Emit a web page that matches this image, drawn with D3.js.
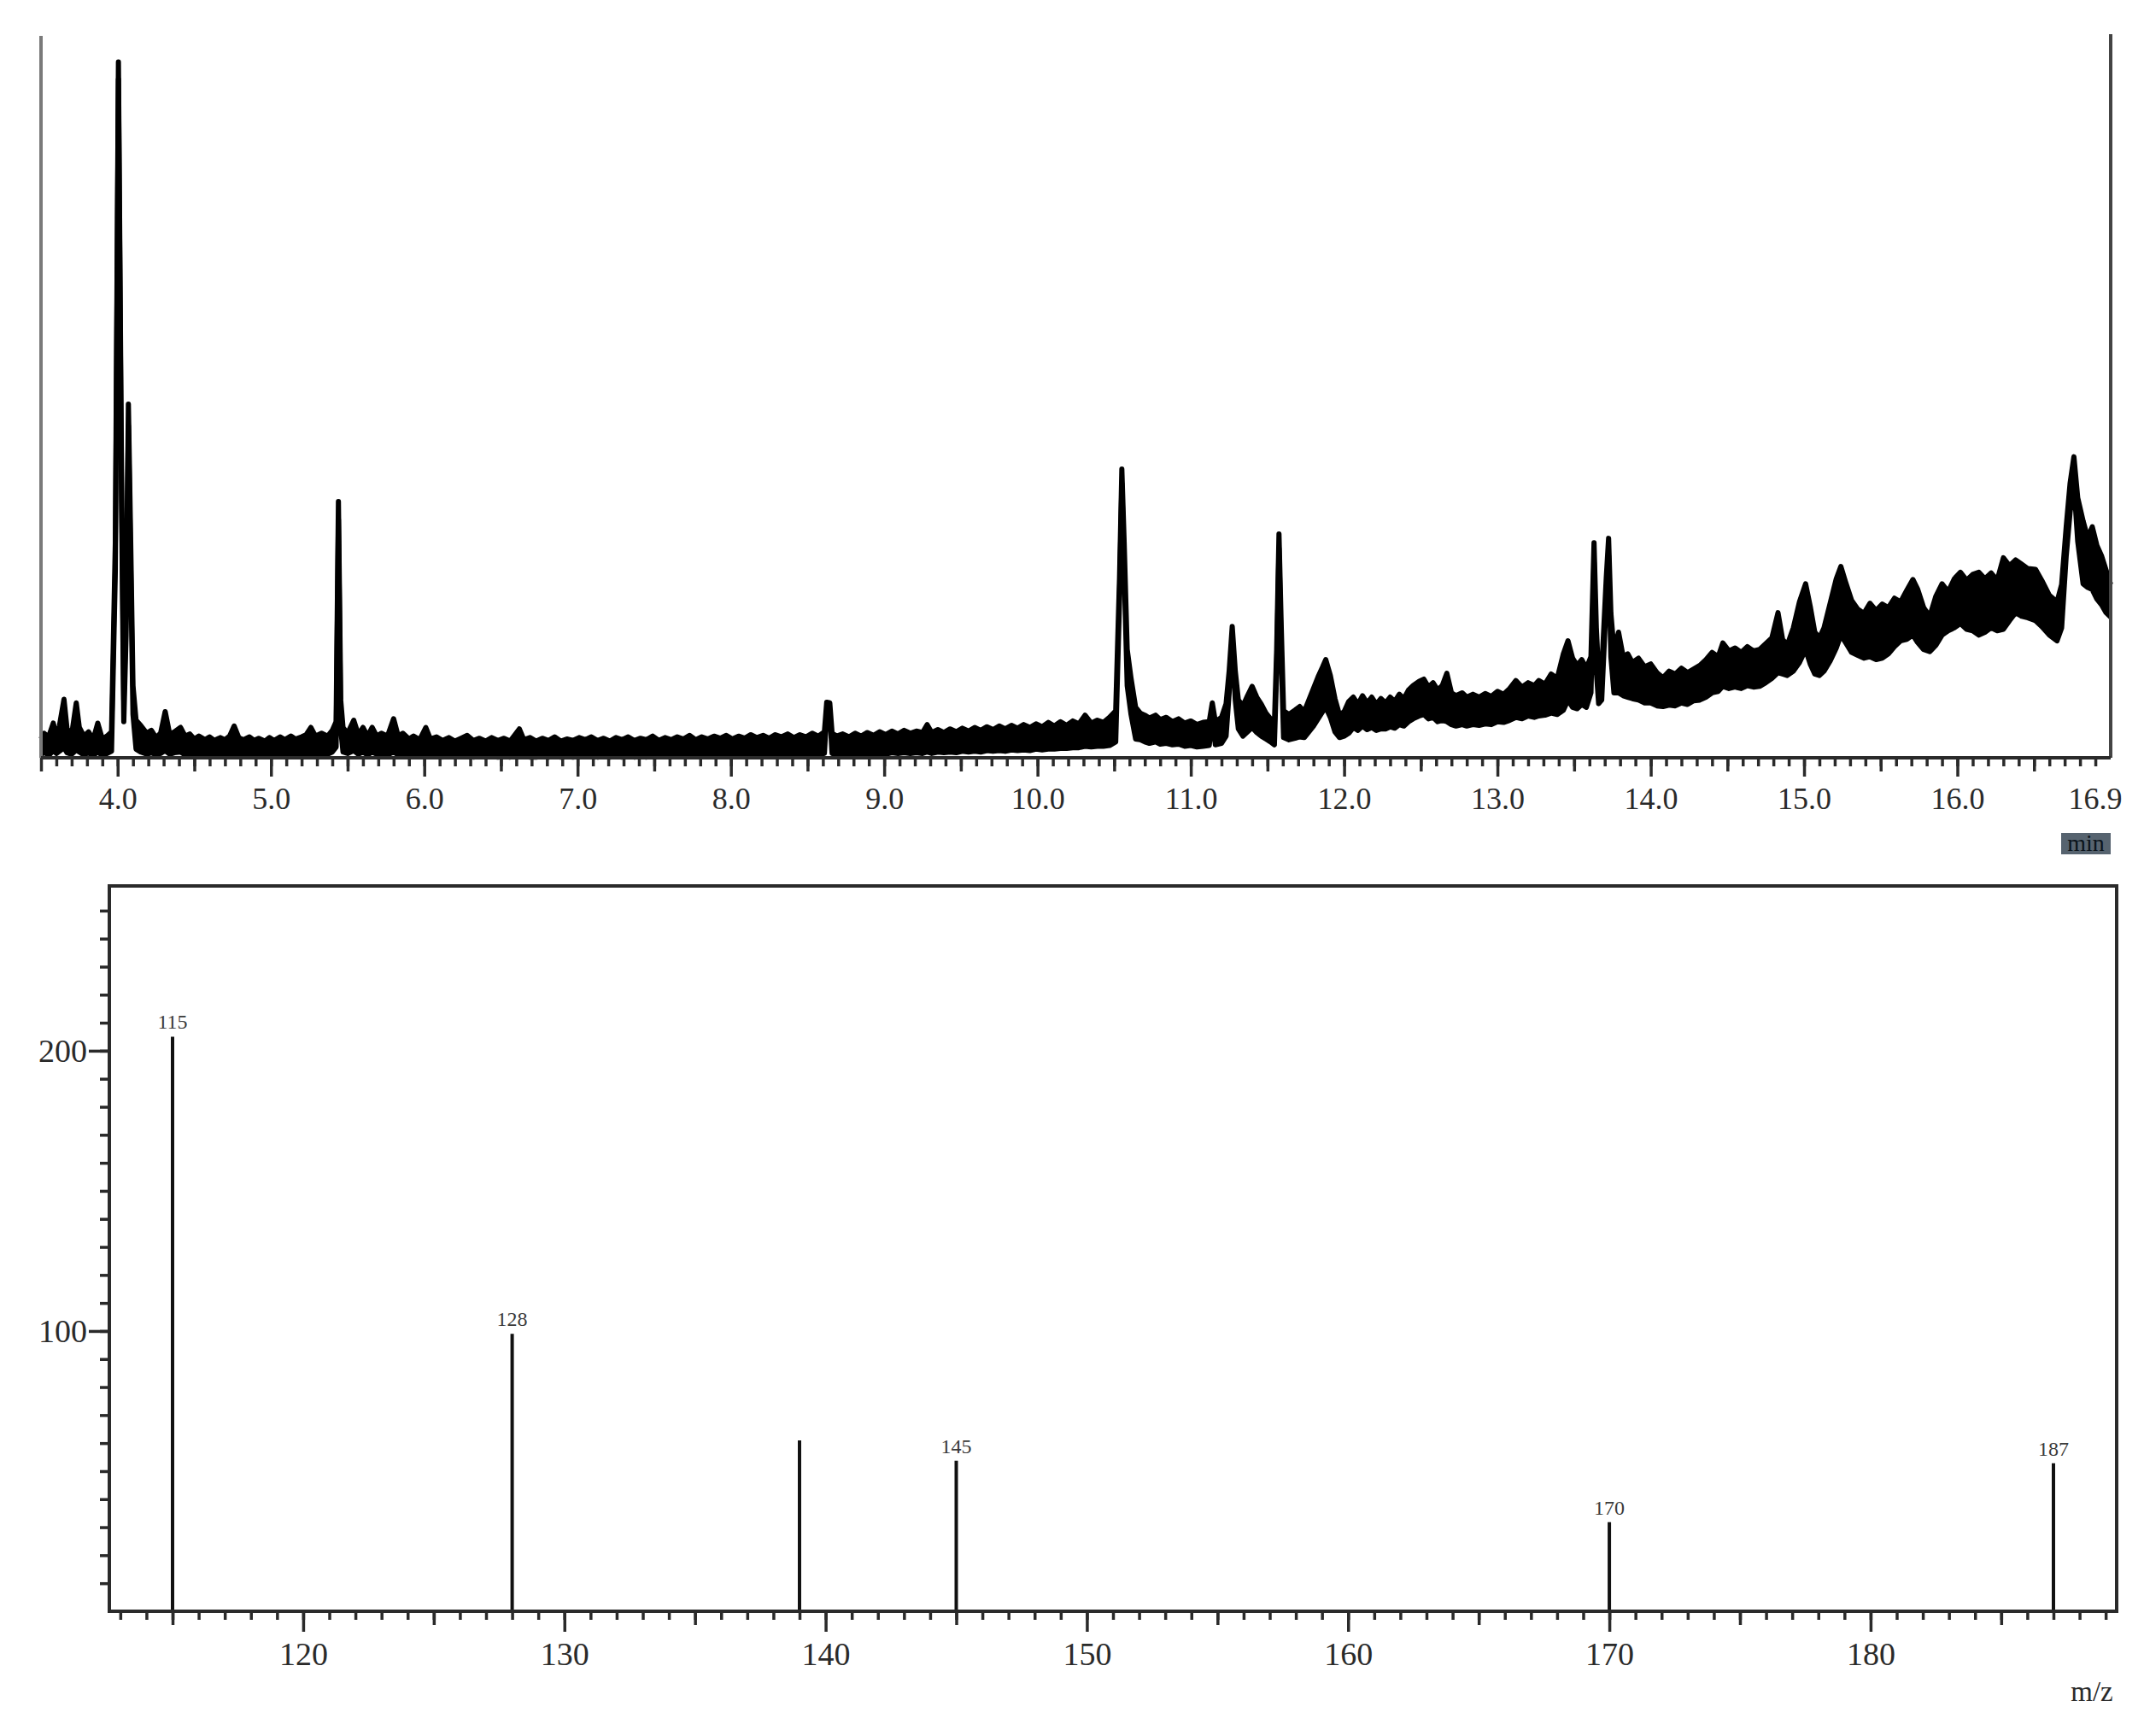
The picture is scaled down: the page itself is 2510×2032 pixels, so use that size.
<!DOCTYPE html>
<html>
<head>
<meta charset="utf-8">
<script src="https://cdn.jsdelivr.net/npm/d3@7"></script>
<style>
  body { margin: 0; background: #fff; }
  svg { display: block; font-family: "Liberation Serif", "Times New Roman", serif; }
</style>
</head>
<body>
<div id="chart"></div>
<script>
// total ion chromatogram:
// [retention time (min), upper edge of trace, lower edge of trace], in % of panel height
var ticTrace = [
  [3.50,2.6,0.4],[3.52,3.4,0.8],[3.55,2.9,0.3],[3.58,4.8,1.0],[3.60,3.1,0.6],[3.62,4.4,0.9],[3.65,8.1,1.4],
  [3.67,4.0,0.7],[3.70,3.2,0.5],[3.73,7.6,1.1],[3.75,4.2,0.8],[3.78,3.0,0.4],[3.81,3.6,0.7],[3.84,2.5,0.3],
  [3.87,4.8,0.8],[3.90,2.6,0.3],[3.93,3.0,0.6],[3.96,3.6,0.9],[3.985,30,26],[4.005,96.4,94],[4.025,40,36],
  [4.04,8,5],[4.055,20,17],[4.07,49,46],[4.085,30,26],[4.10,10,6],[4.12,5.2,1.2],[4.15,4.5,0.8],
  [4.19,3.4,0.5],[4.22,3.8,0.7],[4.25,2.8,0.4],[4.28,3.4,0.6],[4.31,6.4,1.0],[4.34,3.2,0.5],[4.37,3.6,0.7],
  [4.41,4.2,0.8],[4.44,3.0,0.4],[4.47,3.3,0.6],[4.50,2.6,0.3],[4.53,3.0,0.5],[4.57,2.5,0.2],[4.60,2.9,0.4],
  [4.63,2.4,0.3],[4.67,2.8,0.4],[4.70,2.5,0.2],[4.73,3.0,0.4],[4.76,4.4,0.6],[4.79,2.8,0.3],[4.82,2.5,0.2],
  [4.86,2.9,0.4],[4.89,2.4,0.2],[4.92,2.7,0.3],[4.96,2.3,0.2],[4.99,2.8,0.4],[5.02,2.4,0.2],[5.06,2.9,0.3],
  [5.09,2.5,0.2],[5.13,3.0,0.4],[5.16,2.6,0.3],[5.20,2.9,0.3],[5.23,3.2,0.5],[5.26,4.2,0.6],[5.29,3.0,0.4],
  [5.33,3.4,0.6],[5.37,3.0,0.5],[5.40,3.8,0.8],[5.425,5,1.5],[5.44,35.5,33],[5.455,8,4],[5.47,4.2,0.8],
  [5.50,3.4,0.6],[5.54,5.2,1.0],[5.57,3.2,0.5],[5.60,4.2,0.8],[5.63,3.0,0.4],[5.66,4.2,0.8],[5.69,3.0,0.5],
  [5.72,3.4,0.5],[5.76,3.0,0.4],[5.80,5.4,0.8],[5.83,3.0,0.4],[5.86,3.4,0.5],[5.90,2.6,0.3],[5.93,3.0,0.4],
  [5.97,2.5,0.2],[6.01,4.2,0.5],[6.04,2.6,0.2],[6.08,2.9,0.3],[6.12,2.4,0.1],[6.16,2.8,0.3],[6.20,2.3,0.2],
  [6.24,2.7,0.2],[6.28,3.1,0.3],[6.32,2.4,0.1],[6.36,2.7,0.2],[6.40,2.3,0.1],[6.44,2.8,0.2],[6.48,2.4,0.1],
  [6.52,2.7,0.2],[6.56,2.3,0.1],[6.62,4.0,0.4],[6.65,2.5,0.2],[6.69,2.8,0.1],[6.73,2.3,0.1],[6.77,2.7,0.2],
  [6.81,2.4,0.1],[6.85,2.9,0.2],[6.89,2.3,0.1],[6.93,2.6,0.2],[6.97,2.4,0.1],[7.01,2.8,0.2],[7.05,2.5,0.2],
  [7.09,2.9,0.3],[7.13,2.4,0.1],[7.17,2.7,0.2],[7.21,2.3,0.1],[7.25,2.8,0.2],[7.29,2.5,0.1],[7.33,2.9,0.3],
  [7.37,2.4,0.1],[7.41,2.7,0.2],[7.45,2.5,0.1],[7.49,3.0,0.3],[7.53,2.4,0.2],[7.57,2.8,0.2],[7.61,2.5,0.1],
  [7.65,2.9,0.3],[7.69,2.6,0.2],[7.73,3.1,0.3],[7.77,2.5,0.2],[7.81,2.9,0.3],[7.85,2.6,0.2],[7.89,3.0,0.3],
  [7.93,2.7,0.2],[7.97,3.1,0.4],[8.01,2.6,0.2],[8.05,3.0,0.3],[8.09,2.7,0.2],[8.13,3.2,0.4],[8.17,2.8,0.3],
  [8.21,3.1,0.3],[8.25,2.7,0.2],[8.29,3.2,0.4],[8.33,2.9,0.3],[8.37,3.3,0.4],[8.41,2.8,0.3],[8.45,3.2,0.4],
  [8.49,2.9,0.3],[8.53,3.4,0.5],[8.57,3.0,0.4],[8.61,3.6,0.6],[8.625,7.7,6.5],[8.645,7.6,6],[8.66,3.4,0.6],
  [8.69,3.0,0.4],[8.73,3.3,0.5],[8.77,2.9,0.4],[8.81,3.4,0.5],[8.85,3.0,0.4],[8.89,3.5,0.6],[8.93,3.1,0.5],
  [8.97,3.6,0.6],[9.01,3.2,0.5],[9.05,3.7,0.7],[9.09,3.3,0.6],[9.13,3.8,0.7],[9.17,3.4,0.6],[9.21,3.7,0.7],
  [9.25,3.5,0.6],[9.28,4.6,0.8],[9.31,3.5,0.6],[9.35,3.9,0.8],[9.39,3.5,0.7],[9.43,4.0,0.8],[9.47,3.6,0.7],
  [9.51,4.1,0.9],[9.55,3.7,0.8],[9.59,4.2,0.9],[9.63,3.8,0.8],[9.67,4.3,1.0],[9.71,3.9,0.9],[9.75,4.4,1.0],
  [9.79,4.0,0.9],[9.83,4.5,1.1],[9.87,4.1,1.0],[9.91,4.6,1.1],[9.95,4.2,1.0],[9.99,4.7,1.2],[10.03,4.3,1.1],
  [10.07,4.9,1.2],[10.11,4.4,1.2],[10.15,5.0,1.3],[10.19,4.5,1.3],[10.23,5.1,1.4],[10.27,4.7,1.4],[10.31,5.9,1.6],
  [10.35,4.8,1.5],[10.39,5.2,1.6],[10.43,4.9,1.6],[10.47,5.6,1.7],[10.51,6.5,2.2],[10.535,25,22],[10.55,40,38],
  [10.565,30,26],[10.585,15,10],[10.61,11,6],[10.64,7.0,2.6],[10.67,6.2,2.5],[10.70,5.9,2.2],[10.73,5.5,2.0],
  [10.77,5.9,2.2],[10.80,5.3,1.9],[10.84,5.6,2.0],[10.88,5.0,1.8],[10.92,5.4,1.9],[10.96,4.8,1.6],[11.00,5.1,1.7],
  [11.04,4.6,1.5],[11.08,4.9,1.6],[11.12,5.0,1.7],[11.14,7.6,5.5],[11.16,5.0,1.8],[11.20,5.6,2.0],[11.23,7.5,3.0],
  [11.25,12,9],[11.27,18.2,16],[11.29,12,8],[11.31,8,4],[11.34,7.2,3.0],[11.37,8.6,3.6],[11.40,9.9,4.2],
  [11.43,8.4,3.5],[11.46,7.4,3.0],[11.49,6.2,2.6],[11.52,5.4,2.2],[11.545,4.6,1.8],[11.56,15,12],[11.575,31,29],
  [11.59,18,14],[11.605,6.5,2.8],[11.64,6.0,2.5],[11.68,6.6,2.7],[11.71,7.1,2.9],[11.74,6.4,2.8],[11.77,8.0,3.6],
  [11.80,9.6,4.4],[11.83,11.2,5.4],[11.86,12.6,6.4],[11.88,13.6,7.0],[11.91,11.4,5.6],[11.94,8.2,3.6],[11.97,5.9,2.8],
  [12.00,6.4,3.0],[12.03,7.8,3.4],[12.06,8.4,4.2],[12.09,7.4,3.8],[12.12,8.6,4.4],[12.15,7.6,3.9],[12.18,8.4,4.2],
  [12.21,7.4,3.8],[12.24,8.2,4.0],[12.27,7.6,4.0],[12.30,8.4,4.3],[12.33,7.8,4.1],[12.36,8.8,4.6],[12.39,8.2,4.4],
  [12.42,9.4,5.0],[12.45,10.0,5.4],[12.49,10.6,5.8],[12.52,10.9,6.0],[12.55,9.8,5.4],[12.58,10.4,5.6],[12.61,9.4,5.0],
  [12.64,10.0,5.2],[12.67,11.7,5.0],[12.70,9.0,4.6],[12.73,8.6,4.4],[12.77,9.0,4.6],[12.80,8.4,4.4],[12.84,8.8,4.6],
  [12.88,8.4,4.5],[12.92,8.9,4.7],[12.96,8.5,4.6],[13.00,9.2,5.0],[13.04,8.8,4.9],[13.08,9.6,5.2],[13.12,10.7,5.6],
  [13.16,9.8,5.4],[13.20,10.4,5.8],[13.24,10.0,5.6],[13.27,10.7,5.8],[13.31,10.2,5.9],[13.35,11.6,6.2],[13.39,11.0,6.0],
  [13.43,14.4,6.6],[13.46,16.2,8.0],[13.49,13.8,7.0],[13.52,12.8,6.8],[13.55,13.6,7.4],[13.58,12.4,7.0],[13.61,14,9],
  [13.63,29.8,27],[13.645,18,12],[13.66,11.5,7.5],[13.68,12,8],[13.71,25,22],[13.725,30.4,28],[13.74,20,14],
  [13.76,15,9],[13.79,17.4,9.0],[13.82,14.0,8.6],[13.85,14.4,8.4],[13.88,13.2,8.2],[13.92,13.8,8.0],[13.96,12.6,7.6],
  [14.00,13.0,7.6],[14.04,11.8,7.2],[14.08,11.1,7.1],[14.12,12.0,7.3],[14.16,11.6,7.2],[14.20,12.4,7.6],[14.24,11.8,7.4],
  [14.28,12.3,7.9],[14.32,12.8,8.0],[14.36,13.6,8.4],[14.40,14.6,9.0],[14.44,14.0,9.2],[14.47,15.9,9.9],[14.51,14.8,9.6],
  [14.55,15.2,9.8],[14.59,14.6,9.6],[14.63,15.4,10.0],[14.67,14.8,9.8],[14.71,15.0,9.9],[14.75,15.8,10.4],[14.79,16.6,11.0],
  [14.83,20.1,11.8],[14.86,16.4,11.6],[14.89,15.6,11.4],[14.93,18.0,12.0],[14.97,21.6,13.2],[15.01,24.1,15.0],[15.04,21.0,13.0],
  [15.07,17.4,11.6],[15.10,16.6,11.4],[15.13,18.0,12.0],[15.17,21.4,13.4],[15.21,24.8,15.2],[15.24,26.5,17.0],[15.27,24.4,16.0],
  [15.31,21.8,14.6],[15.35,20.6,14.2],[15.39,20.0,13.8],[15.43,21.4,14.0],[15.47,20.4,13.6],[15.51,21.3,13.8],[15.55,20.8,14.4],
  [15.59,22.1,15.4],[15.63,21.6,16.2],[15.67,23.2,16.4],[15.71,24.7,17.0],[15.74,23.4,16.0],[15.78,20.8,15.0],[15.82,19.6,14.7],
  [15.86,22.4,15.6],[15.90,24.1,17.0],[15.94,23.0,17.6],[15.98,24.8,18.0],[16.02,25.7,18.6],[16.06,24.6,17.8],[16.10,25.4,17.6],
  [16.14,25.7,17.0],[16.18,24.8,17.4],[16.22,25.6,18.0],[16.26,24.6,17.6],[16.30,27.7,17.8],[16.34,26.6,19.0],[16.38,27.4,20.1],
  [16.42,26.8,19.6],[16.46,26.2,19.4],[16.51,26.1,19.0],[16.55,24.6,18.2],[16.60,22.5,17.0],[16.65,21.6,16.2],[16.68,24,18],
  [16.71,32,28],[16.735,38,34],[16.76,41.7,38],[16.785,36,30],[16.82,32.8,24.1],[16.85,30.5,23.6],[16.88,32.0,23.3],
  [16.91,29.4,22.0],[16.94,28.0,21.2],[16.97,26.0,20.1],[17.00,24.0,19.5]
];

var rtLabels = [4, 5, 6, 7, 8, 9, 10, 11, 12, 13, 14, 15, 16];
var rtEndLabel = 16.9;

// mass spectrum
var msMz = [115, 128, 139, 145, 170, 187];
var msAbund = [205, 99, 61, 53.7, 31.8, 52.8];
var msLabelled = [115, 128, 145, 170, 187];
var msXLabels = [120, 130, 140, 150, 160, 170, 180];
var msYLabels = [100, 200];

var W = 2510, H = 2032;
var ink = "#2a2a2a";

var svg = d3.select("#chart").append("svg")
    .attr("width", W)
    .attr("height", H);

function cleanAxis(g, w) {
  g.select(".domain").remove();
  g.selectAll(".tick line").attr("stroke", ink).attr("stroke-width", w);
}

// ---------- chromatogram ----------
var tx = d3.scaleLinear().domain([3.5, 17.0]).range([48, 2471]);
var ty = d3.scaleLinear().domain([0, 100]).range([887, 42]);

var chrom = svg.append("g");

chrom.append("path")
    .datum(ticTrace)
    .attr("d", d3.area()
        .x(function(d) { return tx(d[0]); })
        .y0(function(d) { return ty(d[2]); })
        .y1(function(d) { return ty(d[1]); }))
    .attr("fill", "#000");

[1, 2].forEach(function(k) {
  chrom.append("path")
      .datum(ticTrace)
      .attr("d", d3.line()
          .x(function(d) { return tx(d[0]); })
          .y(function(d) { return ty(d[k]); }))
      .attr("fill", "none")
      .attr("stroke", "#000")
      .attr("stroke-width", 6)
      .attr("stroke-linejoin", "round");
});

// frame: grey left side, dark right side and base
chrom.append("line").attr("x1", 48).attr("x2", 48).attr("y1", 42).attr("y2", 887)
    .attr("stroke", "#7a7a7a").attr("stroke-width", 4);
chrom.append("line").attr("x1", 2471).attr("x2", 2471).attr("y1", 40).attr("y2", 887)
    .attr("stroke", "#444").attr("stroke-width", 4);
chrom.append("line").attr("x1", 48).attr("x2", 2471).attr("y1", 887).attr("y2", 887)
    .attr("stroke", ink).attr("stroke-width", 4);

var rtMinor = d3.range(36, 170).map(function(v) { return v / 10; });
var rtHalf = d3.range(7, 34, 2).map(function(v) { return v / 2; });

chrom.append("g").attr("transform", "translate(0,887)")
    .call(d3.axisBottom(tx).tickValues(rtMinor).tickSize(10).tickFormat(""))
    .call(cleanAxis, 3.5);
chrom.append("g").attr("transform", "translate(0,887)")
    .call(d3.axisBottom(tx).tickValues(rtHalf).tickSize(16).tickFormat(""))
    .call(cleanAxis, 3.5);
var rtAxis = chrom.append("g").attr("transform", "translate(0,887)")
    .call(d3.axisBottom(tx).tickValues(rtLabels).tickSize(22).tickPadding(12).tickFormat(d3.format(".1f")))
    .call(cleanAxis, 3.5);
rtAxis.selectAll("text")
    .attr("font-family", "Liberation Serif, serif")
    .attr("font-size", 36)
    .attr("fill", ink);

chrom.append("text")
    .attr("x", tx(rtEndLabel))
    .attr("y", 947)
    .attr("text-anchor", "middle")
    .attr("font-size", 36)
    .attr("fill", ink)
    .text(d3.format(".1f")(rtEndLabel));

chrom.append("rect")
    .attr("x", 2413).attr("y", 975).attr("width", 58).attr("height", 25)
    .attr("fill", "#56636f");
chrom.append("text")
    .attr("x", 2442).attr("y", 996)
    .attr("text-anchor", "middle")
    .attr("font-size", 28)
    .attr("fill", "#0b141b")
    .text("min");

// ---------- mass spectrum ----------
var mx = d3.scaleLinear().domain([112.58, 189.42]).range([128, 2478]);
var my = d3.scaleLinear().domain([0, 258.8]).range([1886, 1037]);

var ms = svg.append("g");

ms.selectAll("line.stick")
    .data(msMz)
  .enter().append("line")
    .attr("class", "stick")
    .attr("x1", function(d) { return mx(d); })
    .attr("x2", function(d) { return mx(d); })
    .attr("y1", my(0))
    .attr("y2", function(d, i) { return my(msAbund[i]); })
    .attr("stroke", "#111")
    .attr("stroke-width", 4);

ms.selectAll("text.peak")
    .data(msLabelled)
  .enter().append("text")
    .attr("class", "peak")
    .attr("x", function(d) { return mx(d); })
    .attr("y", function(d) { return my(msAbund[msMz.indexOf(d)]) - 9; })
    .attr("text-anchor", "middle")
    .attr("font-size", 24)
    .attr("fill", "#3a3a3a")
    .text(function(d) { return d; });

ms.append("rect")
    .attr("x", mx.range()[0]).attr("y", my.range()[1])
    .attr("width", mx.range()[1] - mx.range()[0])
    .attr("height", my.range()[0] - my.range()[1])
    .attr("fill", "none")
    .attr("stroke", ink)
    .attr("stroke-width", 4);

var mzMinor = d3.range(113, 190);
var mzFive = d3.range(115, 190, 10);

ms.append("g").attr("transform", "translate(0,1886)")
    .call(d3.axisBottom(mx).tickValues(mzMinor).tickSize(10).tickFormat(""))
    .call(cleanAxis, 3.5);
ms.append("g").attr("transform", "translate(0,1886)")
    .call(d3.axisBottom(mx).tickValues(mzFive).tickSize(16).tickFormat(""))
    .call(cleanAxis, 3.5);
var mzAxis = ms.append("g").attr("transform", "translate(0,1886)")
    .call(d3.axisBottom(mx).tickValues(msXLabels).tickSize(24).tickPadding(12))
    .call(cleanAxis, 3.5);
mzAxis.selectAll("text")
    .attr("font-family", "Liberation Serif, serif")
    .attr("font-size", 38)
    .attr("fill", ink);

ms.append("g").attr("transform", "translate(128,0)")
    .call(d3.axisLeft(my).tickValues(d3.range(10, 260, 10)).tickSize(11).tickFormat(""))
    .call(cleanAxis, 3.5);
var abAxis = ms.append("g").attr("transform", "translate(128,0)")
    .call(d3.axisLeft(my).tickValues(msYLabels).tickSize(24).tickPadding(2))
    .call(cleanAxis, 3.5);
abAxis.selectAll("text")
    .attr("font-family", "Liberation Serif, serif")
    .attr("font-size", 38)
    .attr("fill", ink);

ms.append("text")
    .attr("x", 2449).attr("y", 1991)
    .attr("text-anchor", "middle")
    .attr("font-size", 33)
    .attr("fill", ink)
    .text("m/z");
</script>
</body>
</html>
